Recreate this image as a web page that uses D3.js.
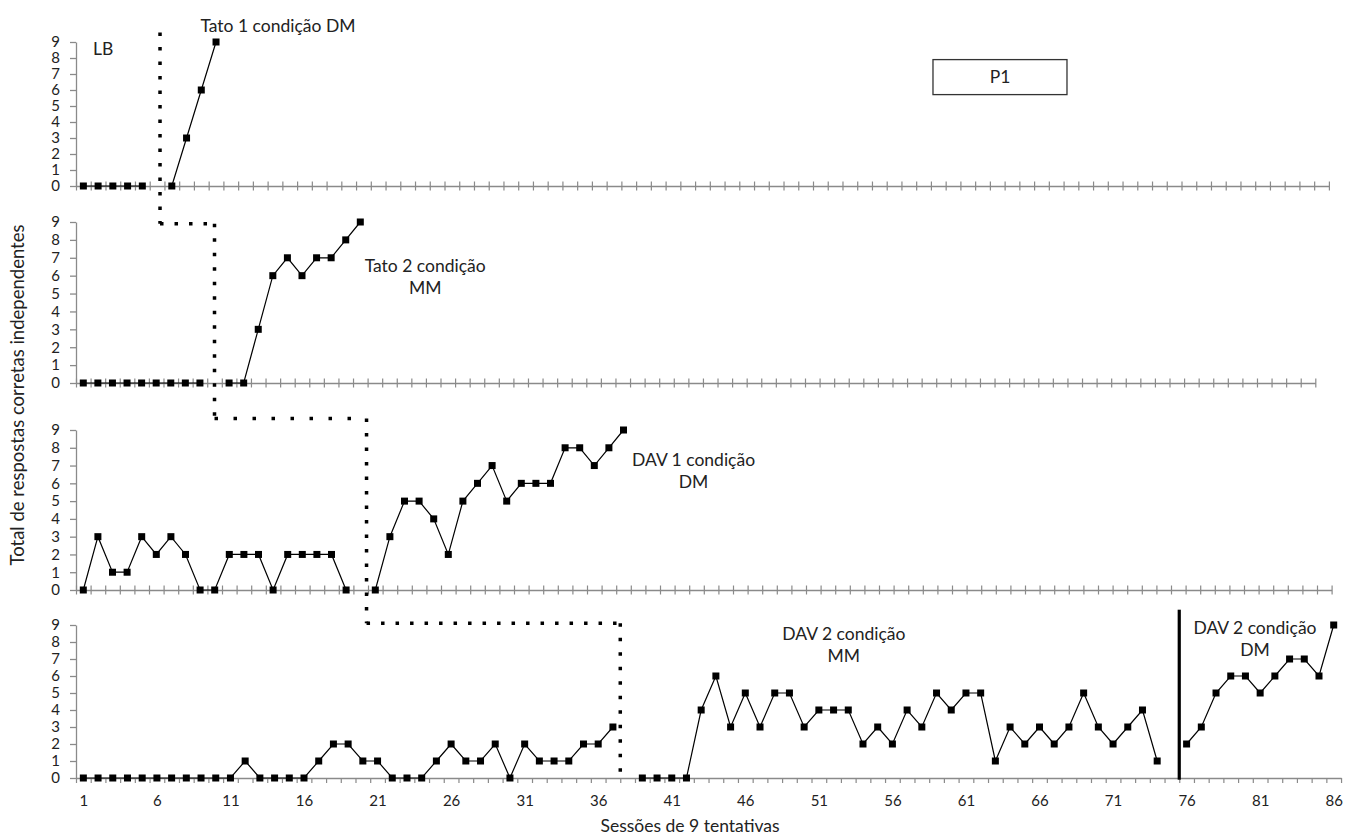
<!DOCTYPE html>
<html>
<head>
<meta charset="utf-8">
<script src="https://cdn.jsdelivr.net/npm/d3@7"></script>
<style>
  html, body { margin: 0; padding: 0; background: #fff; }
  svg { display: block; }
  text { font-family: Lato, "Open Sans", sans-serif; fill: #222; }
</style>
</head>
<body>
<svg id="chart" width="1345" height="837"></svg>
<script>
// Correct independent responses per session (null = no session recorded)
const tato1 = [0, 0, 0, 0, 0, null, 0, 3, 6, 9];
const tato2 = [0, 0, 0, 0, 0, 0, 0, 0, 0, null, 0, 0, 3, 6, 7, 6, 7, 7, 8, 9];
const dav1 = [0, 3, 1, 1, 3, 2, 3, 2, 0, 0, 2, 2, 2, 0, 2, 2, 2, 2, 0, null,
              0, 3, 5, 5, 4, 2, 5, 6, 7, 5, 6, 6, 6, 8, 8, 7, 8, 9];
const dav2 = [0, 0, 0, 0, 0, 0, 0, 0, 0, 0, 0, 1, 0, 0, 0, 0, 1, 2, 2, 1,
              1, 0, 0, 0, 1, 2, 1, 1, 2, 0, 2, 1, 1, 1, 2, 2, 3, null,
              0, 0, 0, 0, 4, 6, 3, 5, 3, 5, 5, 3, 4, 4, 4, 2, 3, 2, 4, 3,
              5, 4, 5, 5, 1, 3, 2, 3, 2, 3, 5, 3, 2, 3, 4, 1, null,
              2, 3, 5, 6, 6, 5, 6, 7, 7, 6, 9];

const yTickValues = [0, 1, 2, 3, 4, 5, 6, 7, 8, 9];
const xTickLabels = [1, 6, 11, 16, 21, 26, 31, 36, 41, 46, 51, 56, 61, 66, 71, 76, 81, 86];

// Condition-change line: [x panel, session, y panel, value]
const phaseChange = [
  [0, 6.2, 0, 9.6],
  [0, 6.2, 1, 8.9],
  [1, 10.0, 1, 8.9],
  [1, 10.0, 2, 9.65],
  [2, 20.4, 2, 9.65],
  [2, 20.4, 3, 9.1],
  [3, 37.5, 3, 9.1],
  [3, 37.5, 3, 0]
];
// Solid condition-change line in the last panel
const solidChange = { panel: 3, session: 75.5, from: 9.9, to: -0.1 };

// Text annotations: [panel, session, value, lines]
const annotations = [
  [0, 2.35, 8.6, ["LB"]],
  [0, 14.2, 10.0, ["Tato 1 condição DM"]],
  [1, 24.45, 6.55, ["Tato 2 condição", "MM"]],
  [2, 42.8, 7.3, ["DAV 1 condição", "DM"]],
  [3, 52.7, 8.47, ["DAV 2 condição", "MM"]],
  [3, 80.65, 8.82, ["DAV 2 condição", "DM"]]
];
const participant = "P1";
const yTitle = "Total de respostas corretas independentes";
const xTitle = "Sessões de 9 tentativas";

// Layout of the four stacked panels
const left = 76;
const panels = [
  { values: tato1, top: 42, bottom: 186, step: 14.74, n: 85, ticks: "cross" },
  { values: tato2, top: 222, bottom: 383, step: 14.58, n: 85, ticks: "cross" },
  { values: dav1, top: 430, bottom: 590, step: 14.6, n: 86, ticks: "cross" },
  { values: dav2, top: 625, bottom: 778, step: 14.71, n: 86, ticks: "down" }
];

const axisColor = "#8a8a8a";
const labelSize = "17.5px";
const tickSize = "15px";
const svg = d3.select("#chart");

panels.forEach(p => {
  p.x = d3.scaleLinear().domain([0.5, p.n + 0.5]).range([left, left + p.n * p.step]);
  p.y = d3.scaleLinear().domain([0, 9]).range([p.bottom, p.top]);
});

panels.forEach((p, i) => {
  const g = svg.append("g");

  // y axis
  const ya = g.append("g")
    .attr("transform", `translate(${left},0)`)
    .call(d3.axisLeft(p.y).tickValues(yTickValues).tickSize(6).tickSizeOuter(0).tickPadding(10));
  ya.select(".domain").attr("stroke", axisColor).attr("stroke-width", 1.3);
  ya.selectAll(".tick line").attr("stroke", axisColor).attr("stroke-width", 1.3);
  ya.selectAll(".tick text").style("font-size", tickSize).attr("fill", "#222");

  // x axis with category-boundary ticks
  const bounds = d3.range(0.5, p.n + 1, 1);
  const xa = g.append("g")
    .attr("transform", `translate(0,${p.bottom})`)
    .call(d3.axisBottom(p.x).tickValues(bounds).tickFormat("").tickSize(5).tickSizeOuter(0));
  xa.select(".domain").attr("stroke", axisColor).attr("stroke-width", 1.3);
  xa.selectAll(".tick line").attr("stroke", axisColor).attr("stroke-width", 1.2);
  if (p.ticks === "cross") xa.selectAll(".tick line").attr("y1", -4.5).attr("y2", 4.5);

  if (i === panels.length - 1) {
    const xl = g.append("g")
      .attr("transform", `translate(0,${p.bottom})`)
      .call(d3.axisBottom(p.x).tickValues(xTickLabels).tickSize(0).tickPadding(17));
    xl.select(".domain").remove();
    xl.selectAll(".tick text").style("font-size", tickSize).attr("fill", "#222");
  }

  // data line and markers
  const pts = p.values.map((v, k) => ({ s: k + 1, v }));
  const line = d3.line()
    .defined(d => d.v !== null)
    .x(d => p.x(d.s))
    .y(d => p.y(d.v));
  g.append("path")
    .datum(pts)
    .attr("d", line)
    .attr("fill", "none")
    .attr("stroke", "#000")
    .attr("stroke-width", 1.2);
  const ms = 7;
  g.selectAll("rect.marker")
    .data(pts.filter(d => d.v !== null))
    .join("rect")
    .attr("class", "marker")
    .attr("x", d => p.x(d.s) - ms / 2)
    .attr("y", d => p.y(d.v) - ms / 2)
    .attr("width", ms)
    .attr("height", ms)
    .attr("fill", "#000");
});

// dotted condition-change line, drawn segment by segment
for (let k = 0; k < phaseChange.length - 1; k++) {
  const a = phaseChange[k], b = phaseChange[k + 1];
  const x1 = panels[a[0]].x(a[1]), y1 = panels[a[2]].y(a[3]);
  const x2 = panels[b[0]].x(b[1]), y2 = panels[b[2]].y(b[3]);
  const horizontal = Math.abs(y1 - y2) < 0.5;
  const dash = (horizontal && a[2] === 2) ? "3.5 15.5" : "3.5 11";
  svg.append("line")
    .attr("x1", x1).attr("y1", y1).attr("x2", x2).attr("y2", y2)
    .attr("stroke", "#000")
    .attr("stroke-width", 3.5)
    .attr("stroke-dasharray", dash);
}

// solid condition-change line
{
  const p = panels[solidChange.panel];
  svg.append("line")
    .attr("x1", p.x(solidChange.session)).attr("x2", p.x(solidChange.session))
    .attr("y1", p.y(solidChange.from)).attr("y2", p.y(solidChange.to))
    .attr("stroke", "#000")
    .attr("stroke-width", 3.2);
}

// condition labels
annotations.forEach(([pi, s, v, lines]) => {
  const p = panels[pi];
  const t = svg.append("text")
    .attr("x", p.x(s))
    .attr("y", p.y(v))
    .attr("text-anchor", "middle")
    .style("font-size", labelSize);
  lines.forEach((ln, j) => {
    t.append("tspan")
      .attr("x", p.x(s))
      .attr("dy", j === 0 ? "0.35em" : "22px")
      .text(ln);
  });
});

// participant box
{
  const p = panels[0];
  const bx = p.x(58.64), by = p.y(7.9), bw = 134, bh = 35;
  svg.append("rect")
    .attr("x", bx).attr("y", by).attr("width", bw).attr("height", bh)
    .attr("fill", "#fff").attr("stroke", "#333").attr("stroke-width", 1.3);
  svg.append("text")
    .attr("x", bx + bw / 2).attr("y", by + bh / 2)
    .attr("dy", "0.35em")
    .attr("text-anchor", "middle")
    .style("font-size", labelSize)
    .text(participant);
}

// axis titles
svg.append("text")
  .attr("transform", "translate(18,395) rotate(-90)")
  .attr("text-anchor", "middle")
  .attr("dy", "0.35em")
  .style("font-size", "18.5px")
  .text(yTitle);
svg.append("text")
  .attr("x", 690).attr("y", 826)
  .attr("text-anchor", "middle")
  .attr("dy", "0.35em")
  .style("font-size", labelSize)
  .text(xTitle);
</script>
</body>
</html>
